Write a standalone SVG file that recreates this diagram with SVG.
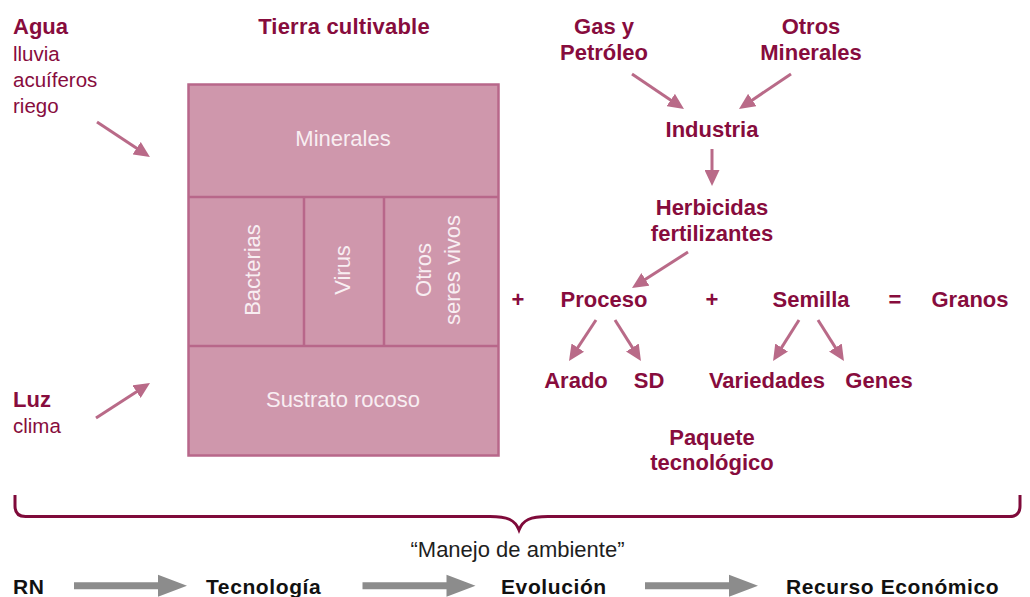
<svg xmlns="http://www.w3.org/2000/svg" width="1030" height="597" viewBox="0 0 1030 597">
<style>
.b{font-family:"Liberation Sans",Arial,sans-serif;font-weight:bold;font-size:22px;fill:#870c3d}
.r{font-family:"Liberation Sans",Arial,sans-serif;font-size:20.5px;fill:#870c3d}
.w{font-family:"Liberation Sans",Arial,sans-serif;font-size:22px;fill:#f8eef2}
.k{font-family:"Liberation Sans",Arial,sans-serif;font-weight:bold;font-size:21px;fill:#111;letter-spacing:0.6px}
.q{font-family:"Liberation Sans",Arial,sans-serif;font-size:22px;fill:#1e1e1e}
.m{text-anchor:middle}
.cell{fill:#cf97ac;stroke:#b8678a;stroke-width:2.5}
.arr{stroke:#b96a88;stroke-width:3;fill:none;marker-end:url(#ah)}
</style>
<defs>
<marker id="ah" markerUnits="userSpaceOnUse" markerWidth="16" markerHeight="15" viewBox="0 0 16 15" refX="6" refY="7.5" orient="auto">
<path d="M0,0 L16,7.5 L0,15 z" fill="#b96a88"/>
</marker>
<path id="garr" d="M74,582.2 L158,582.2 L158,574.7 L187,585.7 L158,596.7 L158,589.2 L74,589.2 z" fill="#8c8c8c"/>
</defs>

<g id="agua">
<text class="b" x="13" y="34">Agua</text>
<text class="r" x="13" y="61">lluvia</text>
<text class="r" x="13" y="87">acuíferos</text>
<text class="r" x="13" y="113">riego</text>
</g>
<g id="luz">
<text class="b" x="13" y="407">Luz</text>
<text class="r" x="13" y="433">clima</text>
</g>
<g id="tierra">
<text class="b m" x="344" y="34" style="letter-spacing:0.2px">Tierra cultivable</text>
<rect class="cell" x="188.5" y="84.5" width="310" height="371"/>
<line class="cell" x1="188.5" y1="197" x2="498.5" y2="197"/>
<line class="cell" x1="188.5" y1="346" x2="498.5" y2="346"/>
<line class="cell" x1="304" y1="197" x2="304" y2="346"/>
<line class="cell" x1="384" y1="197" x2="384" y2="346"/>
<text class="w m" x="343" y="146">Minerales</text>
<text class="w m" transform="translate(260,270) rotate(-90)">Bacterias</text>
<text class="w m" transform="translate(350,270) rotate(-90)">Virus</text>
<text class="w m" transform="translate(431,270) rotate(-90)">Otros</text>
<text class="w m" transform="translate(460,270) rotate(-90)">seres vivos</text>
<text class="w m" x="343" y="407">Sustrato rocoso</text>
</g>
<g id="gas"><text class="b m" x="604" y="34">Gas y</text><text class="b m" x="604" y="60">Petróleo</text></g>
<g id="otros"><text class="b m" x="811" y="34">Otros</text><text class="b m" x="811" y="60">Minerales</text></g>
<g id="industria"><text class="b m" x="712" y="137">Industria</text></g>
<g id="herbicidas"><text class="b m" x="712" y="215">Herbicidas</text><text class="b m" x="712" y="241">fertilizantes</text></g>
<g id="ecuacion">
<text class="b m" x="518" y="307">+</text>
<text class="b m" x="712" y="307">+</text>
<text class="b m" x="895" y="307">=</text>
</g>
<g id="proceso"><text class="b m" x="604" y="307">Proceso</text></g>
<g id="semilla"><text class="b m" x="811" y="307">Semilla</text></g>
<g id="granos"><text class="b m" x="970" y="307">Granos</text></g>
<g id="arado"><text class="b m" x="576" y="388">Arado</text></g>
<g id="sd"><text class="b m" x="649" y="388">SD</text></g>
<g id="variedades"><text class="b m" x="767" y="388">Variedades</text></g>
<g id="genes"><text class="b m" x="879" y="388">Genes</text></g>
<g id="paquete"><text class="b m" x="712" y="445">Paquete</text><text class="b m" x="712" y="470">tecnológico</text></g>

<g id="connectors">
<line class="arr" x1="97" y1="122" x2="141.6" y2="151.5"/>
<line class="arr" x1="96" y1="418" x2="141.6" y2="388.4"/>
<line class="arr" x1="632" y1="74" x2="675.7" y2="103.4"/>
<line class="arr" x1="791" y1="74" x2="747.3" y2="103.4"/>
<line class="arr" x1="712" y1="149" x2="712" y2="176"/>
<line class="arr" x1="688" y1="252" x2="640.4" y2="282.6"/>
<line class="arr" x1="596" y1="320" x2="574.5" y2="352.6"/>
<line class="arr" x1="615" y1="320" x2="635.6" y2="352.6"/>
<line class="arr" x1="799" y1="320" x2="778.4" y2="352.6"/>
<line class="arr" x1="818" y1="320" x2="838.6" y2="352.6"/>
<path d="M15,495 L15,506 Q15,516.5 25.5,516.5 L490,516.5 C508,516.5 515,520 519,530 C523,520 530,516.5 548,516.5 L1009.5,516.5 Q1020,516.5 1020,506 L1020,495" fill="none" stroke="#7f0a3a" stroke-width="3"/>
<use href="#garr"/>
<use href="#garr" transform="translate(288.5,0)"/>
<use href="#garr" transform="translate(571,0)"/>
</g>

<g id="manejo"><text class="q m" x="517.5" y="557">“Manejo de ambiente”</text></g>
<g id="rn"><text class="k" x="13" y="594">RN</text></g>
<g id="tecnologia"><text class="k" x="206" y="594">Tecnología</text></g>
<g id="evolucion"><text class="k" x="501" y="594">Evolución</text></g>
<g id="recurso"><text class="k" x="786" y="594">Recurso Económico</text></g>
</svg>
